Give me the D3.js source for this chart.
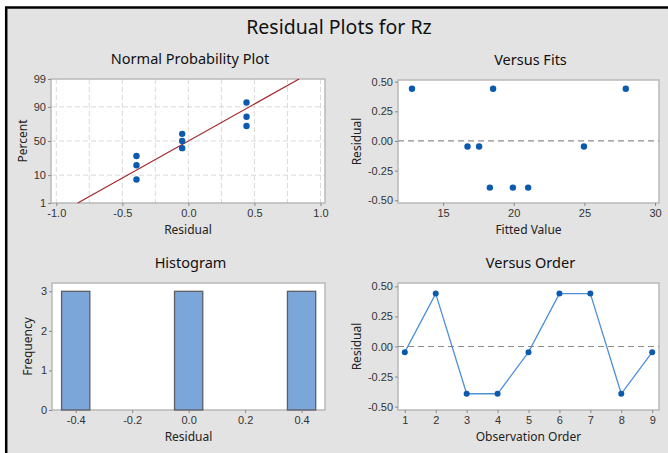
<!DOCTYPE html>
<html>
<head>
<meta charset="utf-8">
<script src="https://cdn.jsdelivr.net/npm/d3@7"></script>
<style>
  body { margin: 0; background: #fff; }
  svg { display: block; font-family: 'Noto Sans', 'DejaVu Sans', sans-serif; }
  .tick text { fill: #333; font-size: 11px; }
  .tick line { stroke: #888; }
  .domain { display: none; }
</style>
</head>
<body>
<div id="chart"></div>
<script>
// residuals in observation order
const observationOrder = [1, 2, 3, 4, 5, 6, 7, 8, 9];
const residuals = [-0.047, 0.44, -0.393, -0.393, -0.047, 0.44, 0.44, -0.393, -0.047];

// versus fits
const fittedValues = [12.80, 16.73, 17.55, 18.31, 18.54, 19.94, 21.02, 24.97, 27.93];
const fitResiduals = [0.44, -0.047, -0.047, -0.393, 0.44, -0.393, -0.393, -0.047, 0.44];

// normal probability plot (sorted residuals vs percent)
const sortedResiduals = [-0.393, -0.393, -0.393, -0.047, -0.047, -0.047, 0.44, 0.44, 0.44];
const probPercents = [7.45, 18.1, 28.7, 39.4, 50, 60.6, 71.3, 81.9, 92.6];
const fitMean = 0, fitSd = 0.36;
const probTicks = [1, 10, 50, 90, 99];

// histogram
const binCenters = [-0.4, -0.3, -0.2, -0.1, 0, 0.1, 0.2, 0.3, 0.4];
const binCounts = [3, 0, 0, 0, 3, 0, 0, 0, 3];
const binWidth = 0.1;

const W = 668, H = 453;
const BLUE = '#0b5aad';

// inverse normal CDF (Acklam)
function qnorm(p) {
     const a = [-3.969683028665376e+01, 2.209460984245205e+02, -2.759285104469687e+02, 1.383577518672690e+02, -3.066479806614716e+01, 2.506628277459239e+00];
     const b = [-5.447609879822406e+01, 1.615858368580409e+02, -1.556989798598866e+02, 6.680131188771972e+01, -1.328068155288572e+01];
     const c = [-7.784894002430293e-03, -3.223964580411365e-01, -2.400758277161838e+00, -2.549732539343734e+00, 4.374664141464968e+00, 2.938163982698783e+00];
     const d = [7.784695709041462e-03, 3.224671290700398e-01, 2.445134137142996e+00, 3.754408661907416e+00];
     const pl = 0.02425;
     let q, r;
     if (p < pl) {
          q = Math.sqrt(-2 * Math.log(p));
          return (((((c[0] * q + c[1]) * q + c[2]) * q + c[3]) * q + c[4]) * q + c[5]) / ((((d[0] * q + d[1]) * q + d[2]) * q + d[3]) * q + 1);
     } else if (p <= 1 - pl) {
          q = p - 0.5; r = q * q;
          return (((((a[0] * r + a[1]) * r + a[2]) * r + a[3]) * r + a[4]) * r + a[5]) * q / (((((b[0] * r + b[1]) * r + b[2]) * r + b[3]) * r + b[4]) * r + 1);
     }
     q = Math.sqrt(-2 * Math.log(1 - p));
     return -(((((c[0] * q + c[1]) * q + c[2]) * q + c[3]) * q + c[4]) * q + c[5]) / ((((d[0] * q + d[1]) * q + d[2]) * q + d[3]) * q + 1);
}

const svg = d3.select('#chart').append('svg').attr('width', W).attr('height', H);

// page background + black frame
svg.append('rect').attr('x', 5).attr('y', 7).attr('width', W - 5).attr('height', H - 7).attr('fill', '#e3e3e3');
svg.append('line').attr('x1', 5).attr('x2', W).attr('y1', 7.5).attr('y2', 7.5).attr('stroke', '#000').attr('stroke-width', 2.5);
svg.append('line').attr('x1', 6.2).attr('x2', 6.2).attr('y1', 7).attr('y2', H).attr('stroke', '#000').attr('stroke-width', 2.5);

svg.append('text').attr('x', 339).attr('y', 34).attr('text-anchor', 'middle')
     .attr('font-size', '19.5px').attr('fill', '#111').text('Residual Plots for Rz');

function panel(box, title, xLabel, yLabel, yLabelX) {
     const g = svg.append('g');
     g.append('rect').attr('x', box.x0).attr('y', box.y0)
          .attr('width', box.x1 - box.x0).attr('height', box.y1 - box.y0)
          .attr('fill', '#fff');
     g.append('text').attr('x', (box.x0 + box.x1) / 2 + 2).attr('y', box.y0 - 15)
          .attr('text-anchor', 'middle').attr('font-size', '14.5px').attr('fill', '#111').text(title);
     g.append('text').attr('x', (box.x0 + box.x1) / 2).attr('y', box.y1 + 31)
          .attr('text-anchor', 'middle').attr('font-size', '12px').attr('fill', '#222').text(xLabel);
     g.append('text').attr('transform', `translate(${yLabelX},${(box.y0 + box.y1) / 2}) rotate(-90)`)
          .attr('text-anchor', 'middle').attr('dy', '0.35em').attr('font-size', '12px').attr('fill', '#222').text(yLabel);
     return g;
}
function frame(g, box) {
     g.append('rect').attr('x', box.x0).attr('y', box.y0)
          .attr('width', box.x1 - box.x0).attr('height', box.y1 - box.y0)
          .attr('fill', 'none').attr('stroke', '#b9b9b9').attr('stroke-width', 1.5);
}
function axes(g, box, x, y, xTicks, yTicks, xFmt, yFmt) {
     g.append('g').attr('transform', `translate(0,${box.y1})`)
          .call(d3.axisBottom(x).tickValues(xTicks).tickFormat(xFmt).tickSizeInner(3).tickSizeOuter(0).tickPadding(3));
     g.append('g').attr('transform', `translate(${box.x0},0)`)
          .call(d3.axisLeft(y).tickValues(yTicks).tickFormat(yFmt).tickSizeInner(3).tickSizeOuter(0).tickPadding(2));
}
const f1 = d => d.toFixed(1), f2 = d => d.toFixed(2), f0 = d => String(d);

// ---------- Normal Probability Plot ----------
{
     const box = { x0: 51, x1: 325, y0: 79, y1: 203 };
     const g = panel(box, 'Normal Probability Plot', 'Residual', 'Percent', 23);
     const x = d3.scaleLinear().domain([-1.04, 1.034]).range([box.x0, box.x1]);
     const y = d3.scaleLinear().domain([qnorm(0.01), qnorm(0.99)]).range([box.y1, box.y0]);
     const yp = p => y(qnorm(p / 100));
     const grid = g.append('g').attr('stroke', '#d9d9d9').attr('stroke-dasharray', '5,3');
     grid.selectAll('.v').data(d3.range(-1, 1.01, 0.25)).join('line')
          .attr('x1', d => x(d)).attr('x2', d => x(d)).attr('y1', box.y0).attr('y2', box.y1);
     grid.selectAll('.h').data([10, 50, 90]).join('line')
          .attr('x1', box.x0).attr('x2', box.x1).attr('y1', d => yp(d)).attr('y2', d => yp(d));
     frame(g, box);
     const ends = [1, 99];
     g.append('line')
          .attr('x1', x(fitMean + fitSd * qnorm(ends[0] / 100))).attr('y1', yp(ends[0]))
          .attr('x2', x(fitMean + fitSd * qnorm(ends[1] / 100))).attr('y2', yp(ends[1]))
          .attr('stroke', '#a3262a').attr('stroke-width', 1.2);
     g.selectAll('circle').data(sortedResiduals).join('circle')
          .attr('cx', d => x(d)).attr('cy', (d, i) => yp(probPercents[i])).attr('r', 3.2).attr('fill', BLUE);
     const ax = g.append('g');
     ax.append('g').attr('transform', `translate(0,${box.y1})`)
          .call(d3.axisBottom(x).tickValues([-1, -0.5, 0, 0.5, 1]).tickFormat(f1).tickSizeInner(3).tickSizeOuter(0).tickPadding(3));
     ax.append('g').attr('transform', `translate(${box.x0},0)`)
          .call(d3.axisLeft(d3.scaleLinear().domain(y.domain()).range(y.range()))
               .tickValues(probTicks.map(p => qnorm(p / 100))).tickFormat((d, i) => probTicks[i])
               .tickSizeInner(3).tickSizeOuter(0).tickPadding(2));
}

// ---------- Versus Fits ----------
{
     const box = { x0: 398, x1: 659, y0: 80, y1: 203 };
     const g = panel(box, 'Versus Fits', 'Fitted Value', 'Residual', 357);
     const x = d3.scaleLinear().domain([11.81, 30.28]).range([box.x0, box.x1]);
     const y = d3.scaleLinear().domain([-0.523, 0.514]).range([box.y1, box.y0]);
     frame(g, box);
     g.append('line').attr('x1', box.x0).attr('x2', box.x1).attr('y1', y(0)).attr('y2', y(0))
          .attr('stroke', '#8c8c8c').attr('stroke-dasharray', '6,4').attr('stroke-width', 1.2);
     g.selectAll('circle').data(fittedValues).join('circle')
          .attr('cx', d => x(d)).attr('cy', (d, i) => y(fitResiduals[i])).attr('r', 3.2).attr('fill', BLUE);
     axes(g, box, x, y, [15, 20, 25, 30], [-0.5, -0.25, 0, 0.25, 0.5], f0, f2);
}

// ---------- Histogram ----------
{
     const box = { x0: 52, x1: 325, y0: 283, y1: 410 };
     const g = panel(box, 'Histogram', 'Residual', 'Frequency', 28);
     const x = d3.scaleLinear().domain([-0.484, 0.483]).range([box.x0, box.x1]);
     const y = d3.scaleLinear().domain([0, 3.21]).range([box.y1, box.y0]);
     frame(g, box);
     g.selectAll('rect.bar').data(binCenters.filter((d, i) => binCounts[i] > 0)).join('rect')
          .attr('class', 'bar')
          .attr('x', d => x(d - binWidth / 2)).attr('width', d => x(d + binWidth / 2) - x(d - binWidth / 2))
          .attr('y', d => y(binCounts[binCenters.indexOf(d)]))
          .attr('height', d => y(0) - y(binCounts[binCenters.indexOf(d)]))
          .attr('fill', '#7ba6da').attr('stroke', '#5d5d66').attr('stroke-width', 1.3);
     axes(g, box, x, y, [-0.4, -0.2, 0, 0.2, 0.4], [0, 1, 2, 3], f1, f0);
}

// ---------- Versus Order ----------
{
     const box = { x0: 398, x1: 659, y0: 283, y1: 410 };
     const g = panel(box, 'Versus Order', 'Observation Order', 'Residual', 357);
     const x = d3.scaleLinear().domain([0.78, 9.22]).range([box.x0, box.x1]);
     const y = d3.scaleLinear().domain([-0.528, 0.528]).range([box.y1, box.y0]);
     frame(g, box);
     g.append('line').attr('x1', box.x0).attr('x2', box.x1).attr('y1', y(0)).attr('y2', y(0))
          .attr('stroke', '#8c8c8c').attr('stroke-dasharray', '6,4').attr('stroke-width', 1.2);
     g.append('path').datum(observationOrder)
          .attr('d', d3.line().x(d => x(d)).y((d, i) => y(residuals[i])))
          .attr('fill', 'none').attr('stroke', '#4f8fd6').attr('stroke-width', 1.3);
     g.selectAll('circle').data(observationOrder).join('circle')
          .attr('cx', d => x(d)).attr('cy', (d, i) => y(residuals[i])).attr('r', 3).attr('fill', BLUE);
     axes(g, box, x, y, observationOrder, [-0.5, -0.25, 0, 0.25, 0.5], f0, f2);
}
</script>
</body>
</html>
